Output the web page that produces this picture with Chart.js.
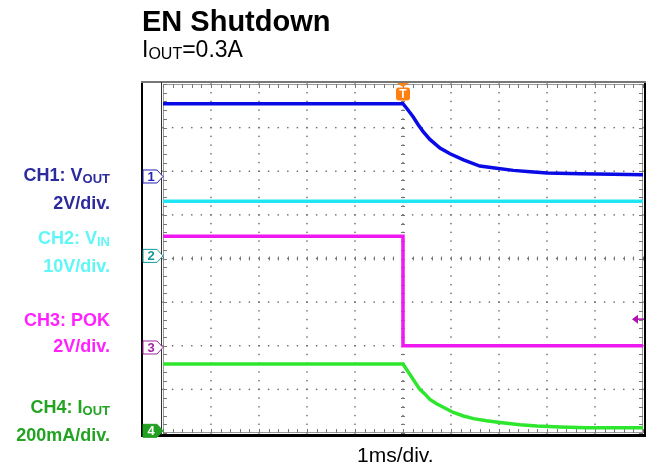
<!DOCTYPE html>
<html>
<head>
<meta charset="utf-8">
<script src="https://cdn.jsdelivr.net/npm/chart.js@4/dist/chart.umd.min.js"></script>
<style>
  body { margin: 0; background: #fff; }
  #wrap { position: relative; width: 647px; height: 468px; font-family: "Liberation Sans", Arial, sans-serif; }
  canvas { position: absolute; left: 0; top: 0; }
  .txt { position: absolute; white-space: nowrap; line-height: 1; color: #000; }
  .ch { position: absolute; right: 537px; text-align: right; font-weight: bold; font-size: 18px; line-height: 26px; white-space: nowrap; }
  .sub { font-size: 13px; position: relative; top: 2px; }
</style>
</head>
<body>
<div id="wrap">
  <canvas id="scope" width="647" height="468"></canvas>
  <div class="txt" style="left:142px;top:7px;font-size:29px;font-weight:bold">EN Shutdown</div>
  <div class="txt" style="left:142px;top:38px;font-size:23px">I<span style="font-size:16px;position:relative;top:2px">OUT</span>=0.3A</div>
  <div class="ch" style="top:162px;color:#2b2b9e">CH1: V<span class="sub">OUT</span><br>2V/div.</div>
  <div class="ch" style="top:225px;color:#5ff6f6">CH2: V<span class="sub">IN</span><br>10V/div.</div>
  <div class="ch" style="top:307px;color:#ff22ff">CH3: POK<br>2V/div.</div>
  <div class="ch" style="top:394px;color:#22a322">CH4: I<span class="sub">OUT</span><br>200mA/div.</div>
  <div class="txt" style="left:357px;top:444px;font-size:21px">1ms/div.</div>
</div>
<script>
// time in ms, trigger at 0 (1ms/div, 10 divisions)
const ch1Time = [-5, 0, 0.10, 0.21, 0.32, 0.42, 0.56, 0.77, 0.98, 1.26, 1.60, 1.95, 2.30, 2.65, 3.00, 3.69, 4.38, 5];
const ch1Vout = [3.34, 3.34, 3.06, 2.74, 2.36, 2.06, 1.70, 1.30, 1.04, 0.76, 0.48, 0.38, 0.28, 0.22, 0.16, 0.12, 0.10, 0.08];

const ch2Time = [-5, 5];
const ch2Vin = [12.5, 12.5];

const ch3Time = [-5, 0, 0, 5];
const ch3Pok = [5.1, 5.1, 0.08, 0.08];

const ch4Time = [-5, 0, 0.35, 0.46, 0.56, 0.70, 0.84, 1.05, 1.26, 1.47, 1.74, 2.02, 2.44, 2.79, 3.27, 3.83, 4.38, 5];
const ch4Iout = [306, 306, 190, 168, 144, 124, 108, 84, 68, 56, 46, 38, 28, 22, 18, 14, 14, 14];

// scope settings: ground marker position (div from bottom) and units per division
const chGround = [5.88, 4.06, 1.96, 0.05];
const chPerDiv = [2, 10, 2, 200];
const trigLevel = 1.3; // V on CH3

const chColors = ['#0a0ae6', '#1ee6f2', '#f018f0', '#2ee62e'];
const markColors = ['#2323b4', '#129a9a', '#a424a4', '#22a022'];

function toPoints(t, v) {
    return t.map((x, i) => ({x: x, y: v[i]}));
}

function chAxis(i) {
    return {
        type: 'linear', display: false,
        min: -chGround[i] * chPerDiv[i],
        max: (8 - chGround[i]) * chPerDiv[i]
    };
}

const scopePlugin = {
    id: 'scope',
    beforeDatasetsDraw(chart) {
        const {ctx, chartArea: a, scales} = chart;
        const xs = scales.x, ys = scales.y;
        ctx.save();

        // outer frame
        ctx.strokeStyle = '#000';
        ctx.lineWidth = 2;
        ctx.beginPath();
        ctx.moveTo(a.left - 21, a.top - 3);
        ctx.lineTo(a.left - 21, a.bottom + 3);
        ctx.moveTo(a.right + 2, a.top - 3);
        ctx.lineTo(a.right + 2, a.bottom + 3);
        ctx.stroke();
        ctx.lineWidth = 3;
        ctx.beginPath();
        ctx.moveTo(a.left - 22, a.bottom + 2.5);
        ctx.lineTo(a.right + 3, a.bottom + 2.5);
        ctx.stroke();
        ctx.strokeStyle = '#777';
        ctx.lineWidth = 2;
        ctx.beginPath();
        ctx.moveTo(a.left - 22, a.top - 2);
        ctx.lineTo(a.right + 3, a.top - 2);
        ctx.stroke();
        ctx.strokeStyle = '#333';
        ctx.lineWidth = 1;
        ctx.beginPath();
        ctx.moveTo(a.left - 1.5, a.top - 2);
        ctx.lineTo(a.left - 1.5, a.bottom + 2);
        ctx.stroke();

        // grid border
        ctx.strokeStyle = '#999';
        ctx.strokeRect(a.left + 0.5, a.top + 0.5, a.right - a.left - 1, a.bottom - a.top - 1);

        ctx.fillStyle = '#666';
        // dotted major lines
        for (let k = -4; k <= 4; k++) {
            const px = xs.getPixelForValue(k);
            for (let j = 0; j <= 40; j++) {
                const py = ys.getPixelForValue(j * 0.2);
                ctx.fillRect(px - 0.7, py - 0.7, 1.4, 1.4);
            }
        }
        for (let k = 1; k <= 7; k++) {
            const py = ys.getPixelForValue(k);
            for (let j = 0; j <= 50; j++) {
                const px = xs.getPixelForValue(-5 + j * 0.2);
                ctx.fillRect(px - 0.7, py - 0.7, 1.4, 1.4);
            }
        }
        // minor ticks on edges and centre lines
        ctx.strokeStyle = '#777';
        ctx.beginPath();
        const cx = xs.getPixelForValue(0), cy = ys.getPixelForValue(4);
        for (let j = 0; j <= 50; j++) {
            const px = Math.round(xs.getPixelForValue(-5 + j * 0.2)) + 0.5;
            ctx.moveTo(px, a.top); ctx.lineTo(px, a.top + 4);
            ctx.moveTo(px, a.bottom); ctx.lineTo(px, a.bottom - 4);
            ctx.moveTo(px, cy - 2); ctx.lineTo(px, cy + 2);
        }
        for (let j = 0; j <= 40; j++) {
            const py = Math.round(ys.getPixelForValue(j * 0.2)) + 0.5;
            ctx.moveTo(a.left, py); ctx.lineTo(a.left + 4, py);
            ctx.moveTo(a.right, py); ctx.lineTo(a.right - 4, py);
            ctx.moveTo(cx - 2, py); ctx.lineTo(cx + 2, py);
        }
        ctx.stroke();
        ctx.restore();
    },
    afterDatasetsDraw(chart) {
        const {ctx, chartArea: a, scales} = chart;
        ctx.save();
        ctx.font = 'bold 13px "Liberation Sans", Arial, sans-serif';
        ctx.textAlign = 'center';
        ctx.textBaseline = 'middle';
        // channel ground flags
        for (let i = 0; i < 4; i++) {
            const py = scales['y' + (i + 1)].getPixelForValue(0);
            const l = a.left - 20, r = a.left - 6, tip = a.left;
            ctx.beginPath();
            ctx.moveTo(l, py - 6.5);
            ctx.lineTo(r, py - 6.5);
            ctx.lineTo(tip, py);
            ctx.lineTo(r, py + 6.5);
            ctx.lineTo(l, py + 6.5);
            ctx.closePath();
            ctx.fillStyle = i === 3 ? markColors[i] : '#fff';
            ctx.fill();
            ctx.strokeStyle = markColors[i];
            ctx.lineWidth = 1;
            ctx.stroke();
            ctx.fillStyle = i === 3 ? '#fff' : markColors[i];
            ctx.fillText(String(i + 1), l + 8, py + 1);
        }
        // trigger position marker
        const tx = scales.x.getPixelForValue(0);
        ctx.fillStyle = '#ff7f10';
        ctx.beginPath();
        ctx.moveTo(tx - 6, a.top - 1);
        ctx.lineTo(tx + 6, a.top - 1);
        ctx.lineTo(tx, a.top + 3);
        ctx.closePath();
        ctx.fill();
        ctx.beginPath();
        ctx.roundRect(tx - 7, a.top + 3.5, 14, 13, 3);
        ctx.fill();
        ctx.fillStyle = '#fff';
        ctx.font = 'bold 12px "Liberation Sans", Arial, sans-serif';
        ctx.fillText('T', tx, a.top + 10.5);
        // trigger level marker (CH3)
        const ly = scales.y3.getPixelForValue(trigLevel);
        ctx.fillStyle = '#b010b0';
        ctx.strokeStyle = '#b010b0';
        ctx.beginPath();
        ctx.moveTo(a.right - 11, ly);
        ctx.lineTo(a.right - 5, ly - 4.5);
        ctx.lineTo(a.right - 5, ly + 4.5);
        ctx.closePath();
        ctx.fill();
        ctx.lineWidth = 1.5;
        ctx.beginPath();
        ctx.moveTo(a.right - 6, ly);
        ctx.lineTo(a.right + 1, ly);
        ctx.stroke();
        ctx.restore();
    }
};

function trace(label, t, v, i) {
    return {
        label: label,
        data: toPoints(t, v),
        yAxisID: 'y' + (i + 1),
        borderColor: chColors[i],
        borderWidth: 3.5,
        pointRadius: 0,
        tension: 0,
        fill: false
    };
}

new Chart(document.getElementById('scope'), {
    type: 'line',
    data: {
        datasets: [
            trace('CH1: VOUT', ch1Time, ch1Vout, 0),
            trace('CH2: VIN', ch2Time, ch2Vin, 1),
            trace('CH3: POK', ch3Time, ch3Pok, 2),
            trace('CH4: IOUT', ch4Time, ch4Iout, 3)
        ]
    },
    options: {
        responsive: false,
        animation: false,
        layout: {padding: {left: 163, right: 4, top: 84, bottom: 35}},
        plugins: {legend: {display: false}, tooltip: {enabled: false}},
        scales: {
            x: {type: 'linear', display: false, min: -5, max: 5},
            y: {type: 'linear', display: false, min: 0, max: 8},
            y1: chAxis(0),
            y2: chAxis(1),
            y3: chAxis(2),
            y4: chAxis(3)
        }
    },
    plugins: [scopePlugin]
});
</script>
</body>
</html>
